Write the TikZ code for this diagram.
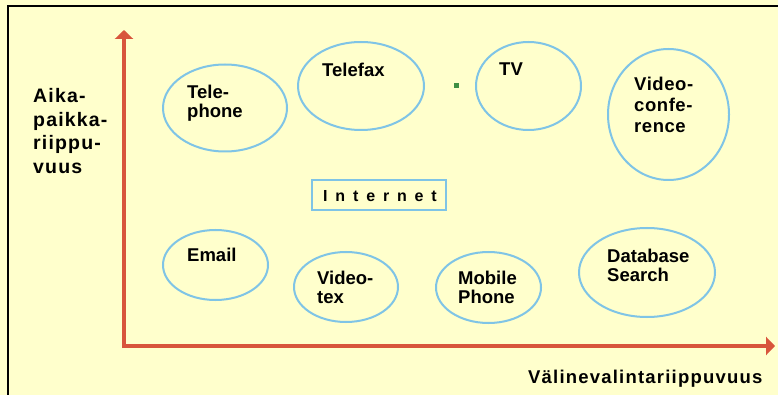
\documentclass[tikz,border=0pt]{standalone}
\usepackage{fontspec}
\setmainfont{Liberation Sans}
\usetikzlibrary{shapes.geometric,arrows.meta}
\definecolor{bgyellow}{HTML}{FFFFCC}
\definecolor{ovalblue}{HTML}{7FC4E6}
\definecolor{axisred}{HTML}{D8553C}
\definecolor{dotgreen}{HTML}{3F8F44}
\tikzset{
  oval/.style={ellipse, draw=ovalblue, line width=2pt, inner sep=0pt},
  lbl/.style={inner sep=0pt, anchor=north west, align=left, font=\bfseries\fontsize{18.5}{18.5}\selectfont},
  axislbl/.style={inner sep=0pt, anchor=north west, align=left},
  axisline/.style={draw=axisred, line width=3.5pt, -{Triangle[width=18pt,length=9pt]}},
}
\begin{document}
\begin{tikzpicture}[x=1pt,y=-1pt]
\useasboundingbox (0,0) rectangle (778,395);
\fill[bgyellow] (0,0) rectangle (778,395);
\draw[black, line width=2.5pt] (8,395) -- (8,6) -- (778,6);
% axes
\coordinate (o) at (124,346);
\coordinate (ytip) at (124,30);
\coordinate (xtip) at (775,346);
\draw[axisline] ([yshift=-2pt]o) -- (ytip);
\draw[axisline] (o) -- (xtip);
% axis labels
\node[axislbl, font=\bfseries\fontsize{19.5}{23.7}\selectfont\addfontfeature{LetterSpace=6}] (ylab) at (33,88) {Aika-\\paikka-\\riippu-\\vuus};
\node[axislbl, font=\bfseries\fontsize{18.5}{18.5}\selectfont\addfontfeature{LetterSpace=6.5}] (xlab) at (528,370) {Välinevalintariippuvuus};
% ovals
\node[oval, minimum width=124pt, minimum height=87pt] (telephone) at (225,108) {};
\node[lbl] (telephoneT) at (187,85) {Tele-\\phone};
\node[oval, minimum width=126pt, minimum height=88pt] (telefax) at (361,86) {};
\node[lbl] (telefaxT) at (322,63) {Telefax};
\node[oval, minimum width=105pt, minimum height=88pt] (tv) at (528.5,86) {};
\node[lbl] (tvT) at (499,63) {TV};
\node[oval, minimum width=121pt, minimum height=131pt] (vconf) at (668.5,114.5) {};
\node[lbl, font=\bfseries\fontsize{18.5}{21}\selectfont\addfontfeature{LetterSpace=3}] (vconfT) at (634,77) {Video-\\confe-\\rence};
\node[oval, minimum width=105pt, minimum height=70pt] (email) at (215.5,265) {};
\node[lbl] (emailT) at (187,248) {Email};
\node[oval, minimum width=104pt, minimum height=70pt] (videotex) at (346,287) {};
\node[lbl] (videotexT) at (317,271) {Video-\\tex};
\node[oval, minimum width=105pt, minimum height=71pt] (mobile) at (488.5,287.5) {};
\node[lbl] (mobileT) at (458,271) {Mobile\\Phone};
\node[oval, minimum width=136pt, minimum height=89pt] (database) at (647,272.5) {};
\node[lbl, font=\bfseries\fontsize{18.5}{19}\selectfont] (databaseT) at (607,249) {Database\\Search};
% internet box
\node[draw=ovalblue, line width=2pt, minimum width=134pt, minimum height=30pt, inner sep=0pt] (internetbox) at (379,195) {};
\node[inner sep=0pt, anchor=north west, font=\bfseries\fontsize{16}{16}\selectfont\addfontfeature{LetterSpace=49}] (internet) at (323,190) {Internet};
% green dot
\node[fill=dotgreen, minimum size=5pt, inner sep=0pt] (dot) at (456.5,86) {};
\end{tikzpicture}
\end{document}
